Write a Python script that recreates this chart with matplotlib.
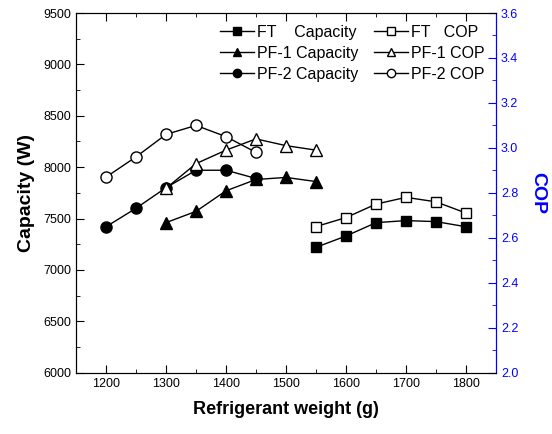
import matplotlib
matplotlib.use("Agg")
import matplotlib.pyplot as plt
from matplotlib.ticker import MultipleLocator

plt.rcParams['font.family'] = ['Liberation Sans', 'DejaVu Sans']

# Data
w_ft = [1550, 1600, 1650, 1700, 1750, 1800]
cap_ft = [7220, 7330, 7460, 7480, 7470, 7420]
cop_ft = [2.65, 2.69, 2.75, 2.78, 2.76, 2.71]

w_pf1 = [1300, 1350, 1400, 1450, 1500, 1550]
cap_pf1 = [7460, 7570, 7770, 7880, 7900, 7860]
cop_pf1 = [2.82, 2.93, 2.99, 3.04, 3.01, 2.99]

w_pf2 = [1200, 1250, 1300, 1350, 1400, 1450]
cap_pf2 = [7420, 7600, 7800, 7970, 7970, 7890]
cop_pf2 = [2.87, 2.96, 3.06, 3.10, 3.05, 2.98]

labels_cap = ["FT    Capacity", "PF-1 Capacity", "PF-2 Capacity"]
labels_cop = ["FT   COP", "PF-1 COP", "PF-2 COP"]

fig = plt.figure(figsize=(5.52, 4.34), dpi=100)
ax = fig.add_axes([0.1377, 0.1413, 0.7609, 0.8287])
ax2 = ax.twinx()

lw = 1.0
h1, = ax.plot(w_ft, cap_ft, '-s', color='black', mfc='black', ms=7, lw=lw)
h2, = ax.plot(w_pf1, cap_pf1, '-^', color='black', mfc='black', ms=8, lw=lw)
h3, = ax.plot(w_pf2, cap_pf2, '-o', color='black', mfc='black', ms=8, lw=lw)
h4, = ax2.plot(w_ft, cop_ft, '-s', color='black', mfc='white', ms=7, lw=lw)
h5, = ax2.plot(w_pf1, cop_pf1, '-^', color='black', mfc='white', ms=8, lw=lw)
h6, = ax2.plot(w_pf2, cop_pf2, '-o', color='black', mfc='white', ms=8, lw=lw)

ax.set_xlim(1150, 1850)
ax.set_ylim(6000, 9500)
ax2.set_ylim(2.0, 3.6)

ax.xaxis.set_major_locator(MultipleLocator(100))
ax.xaxis.set_minor_locator(MultipleLocator(50))
ax.yaxis.set_major_locator(MultipleLocator(500))
ax.yaxis.set_minor_locator(MultipleLocator(250))
ax2.yaxis.set_major_locator(MultipleLocator(0.2))
ax2.yaxis.set_minor_locator(MultipleLocator(0.1))
ax2.yaxis.set_major_formatter(plt.FormatStrFormatter('%.1f'))

ax.tick_params(which='both', direction='in', top=True, right=False, labelsize=9)
ax.tick_params(which='major', length=6)
ax.tick_params(which='minor', length=3)
ax2.tick_params(which='both', direction='in', colors='blue', labelsize=9)
ax2.tick_params(which='major', length=6)
ax2.tick_params(which='minor', length=3)
ax2.spines['right'].set_color('blue')

ax.set_xlabel('Refrigerant weight (g)', fontsize=13, fontweight='bold', labelpad=8)
ax.set_ylabel('Capacity (W)', fontsize=14, fontweight='bold', labelpad=6)
ax2.set_ylabel('COP', fontsize=14, fontweight='bold', color='blue', rotation=-90, labelpad=20)

leg = ax.legend([h1, h2, h3, h4, h5, h6], labels_cap + labels_cop, ncol=2,
                loc='upper right', bbox_to_anchor=(1.0, 0.998), frameon=False,
                fontsize=11.5, markerscale=0.75,
                handlelength=2.1, handletextpad=0.2, columnspacing=1.0,
                labelspacing=0.38, borderaxespad=0.3)

fig.savefig('out.png', dpi=100)
